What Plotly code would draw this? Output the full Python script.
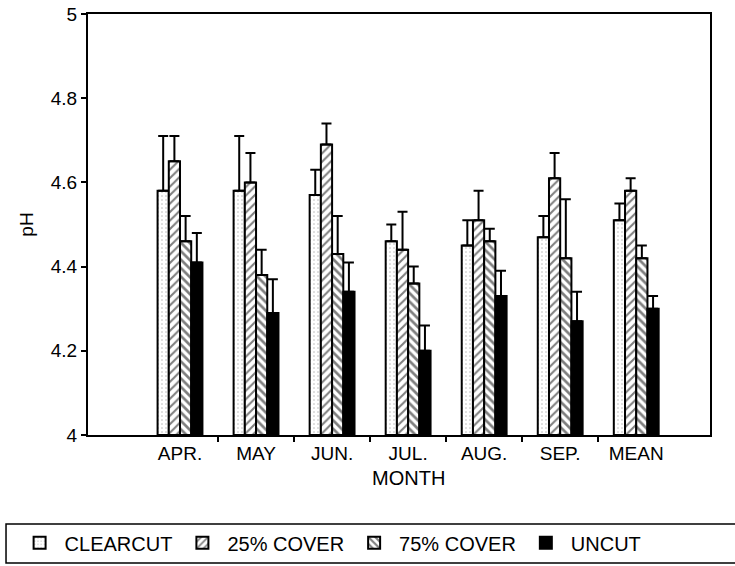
import plotly.graph_objects as go

months = ["APR.", "MAY", "JUN.", "JUL.", "AUG.", "SEP.", "MEAN"]

clearcut = [4.58, 4.58, 4.57, 4.46, 4.45, 4.47, 4.51]
clearcut_hi = [4.71, 4.71, 4.63, 4.50, 4.51, 4.52, 4.55]

cover25 = [4.65, 4.60, 4.69, 4.44, 4.51, 4.61, 4.58]
cover25_hi = [4.71, 4.67, 4.74, 4.53, 4.58, 4.67, 4.61]

cover75 = [4.46, 4.38, 4.43, 4.36, 4.46, 4.42, 4.42]
cover75_hi = [4.52, 4.44, 4.52, 4.40, 4.49, 4.56, 4.45]

uncut = [4.41, 4.29, 4.34, 4.20, 4.33, 4.27, 4.30]
uncut_hi = [4.48, 4.37, 4.41, 4.26, 4.39, 4.34, 4.33]

y_ticks = [4, 4.2, 4.4, 4.6, 4.8, 5]
y_ticktext = ["4", "4.2", "4.4", "4.6", "4.8", "5"]

FONT = "Liberation Sans"
pos = list(range(len(months)))

series = [
    ("CLEARCUT", clearcut, clearcut_hi, dict(shape=".", size=4, solidity=0.12, fgcolor="#666666", bgcolor="white")),
    ("25% COVER", cover25, cover25_hi, dict(shape="/", size=6, solidity=0.35, fgcolor="black", bgcolor="white")),
    ("75% COVER", cover75, cover75_hi, dict(shape="\\", size=6, solidity=0.45, fgcolor="black", bgcolor="white")),
    ("UNCUT", uncut, uncut_hi, None),
]

fig = go.Figure()
for name, vals, hi, pat in series:
    marker = dict(color="white" if pat else "black", line=dict(color="black", width=2))
    if pat:
        marker["pattern"] = pat
    fig.add_trace(go.Bar(
        x=pos, y=[v - 4 for v in vals], base=4, name=name,
        marker=marker,
        error_y=dict(type="data", symmetric=False,
                     array=[h - v for h, v in zip(hi, vals)],
                     arrayminus=[0] * len(vals),
                     color="black", thickness=2, width=5),
    ))

# invisible trace carrying the between-month tick marks
fig.add_trace(go.Scatter(x=[0], y=[4], xaxis="x2", mode="markers",
                         marker=dict(opacity=0), showlegend=False, hoverinfo="skip"))

fig.update_layout(
    width=735, height=566,
    margin=dict(l=88, r=25, t=14, b=131, autoexpand=False),
    paper_bgcolor="white", plot_bgcolor="white",
    barmode="group", bargap=0.41, bargroupgap=0,
    font=dict(family=FONT, size=19, color="black"),
    showlegend=True,
    legend=dict(orientation="h", x=-0.118, y=-0.256, xanchor="left", yanchor="middle",
                font=dict(size=20), bgcolor="rgba(0,0,0,0)", borderwidth=0,
                itemwidth=40, traceorder="normal"),
    xaxis=dict(range=[-1.21, 6.97], tickvals=pos, ticktext=months, ticks="",
               showline=True, linecolor="black", linewidth=2, mirror=True,
               showgrid=False, zeroline=False, tickfont=dict(size=19),
               automargin=False),
    xaxis2=dict(overlaying="x", range=[-1.21, 6.97],
                tickvals=[p + 0.5 for p in pos[:-1]], ticks="outside", ticklen=6,
                tickwidth=1.5, tickcolor="black", showticklabels=False,
                showgrid=False, zeroline=False, showline=False, side="bottom"),
    yaxis=dict(range=[4, 5], tickvals=y_ticks, ticktext=y_ticktext,
               ticks="outside", ticklen=5, tickwidth=1.5, tickcolor="black",
               showline=True, linecolor="black", linewidth=2, mirror=True,
               showgrid=False, zeroline=False, tickfont=dict(size=19),
               title=dict(text="pH", font=dict(size=19), standoff=12),
               automargin=False),
    annotations=[dict(text="MONTH", x=3, y=-0.072, xref="x", yref="paper",
                      xanchor="center", yanchor="top", showarrow=False,
                      font=dict(size=20))],
    shapes=[dict(type="rect", xref="paper", yref="paper",
                 x0=-0.1318, x1=1.05, y0=-0.304, y1=-0.2114,
                 line=dict(color="black", width=1.5))],
)

fig.write_html("out.html")
